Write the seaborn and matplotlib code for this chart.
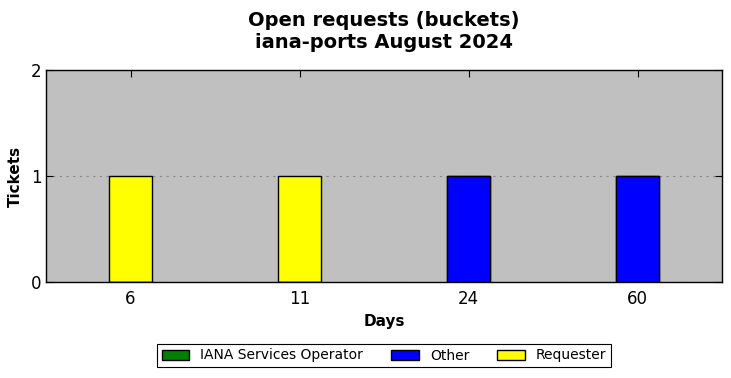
import matplotlib
matplotlib.use("Agg")
import matplotlib.pyplot as plt
from matplotlib.patches import Patch
import seaborn as sns
import pandas as pd
import numpy as np

days = ["6", "11", "24", "60"]
iana = [0, 0, 0, 0]
other = [0, 0, 1, 1]
requester = [1, 1, 0, 0]
series_names = ["IANA Services Operator", "Other", "Requester"]
series_colors = ["green", "blue", "yellow"]

sns.set_style("white")
plt.rcParams['font.family'] = ['DejaVu Sans']
plt.rcParams['text.color'] = 'black'
plt.rcParams['axes.labelcolor'] = 'black'
plt.rcParams['xtick.color'] = 'black'
plt.rcParams['ytick.color'] = 'black'

fig = plt.figure(figsize=(7.31, 3.78), dpi=100)
ax = fig.add_axes([46/731, 1-282/378, (722-46)/731, (282-70)/378])
ax.set_facecolor("#c0c0c0")

c1 = np.array(iana)
c2 = c1 + np.array(other)
c3 = c2 + np.array(requester)
for vals, col in [(c3, "yellow"), (c2, "blue"), (c1, "green")]:
    df = pd.DataFrame({"Days": days, "Tickets": vals})
    sns.barplot(data=df, x="Days", y="Tickets", order=days, color=col,
                width=0.25, edgecolor="black", linewidth=1, saturation=1,
                ax=ax, zorder=3)

ax.set_xlim(-0.5, 3.5)
ax.set_ylim(0, 2)
ax.set_yticks([0, 1, 2])
ax.yaxis.grid(True, linestyle=(0, (2, 4)), color="#888888", linewidth=0.8, zorder=1)
ax.set_axisbelow(True)
for s in ax.spines.values():
    s.set_color("black")
    s.set_linewidth(1)
ax.tick_params(direction="in", top=True, right=True, left=True, bottom=True,
               length=5, width=0.8, labelsize=12, colors="black")
ax.tick_params(axis="y", pad=3)
ax.tick_params(axis="x", pad=6)
ax.set_xlabel("Days", fontsize=11, fontweight="bold", color="black")
ax.set_ylabel("Tickets", fontsize=11, fontweight="bold", color="black", labelpad=6)
ax.set_title("Open requests (buckets)\niana-ports August 2024", fontsize=14,
             fontweight="bold", pad=16, color="black")

handles = [Patch(facecolor=c, edgecolor="black", label=n) for n, c in zip(series_names, series_colors)]
leg = fig.legend(handles=handles, loc="center", bbox_to_anchor=(384/731, 1-355.5/378), ncol=3,
                 fontsize=10, fancybox=False, edgecolor="black", framealpha=1,
                 handlelength=2.0, handleheight=0.7, columnspacing=2.0, borderpad=0.35)
leg.get_frame().set_linewidth(0.8)

fig.savefig("out.png", dpi=100)
